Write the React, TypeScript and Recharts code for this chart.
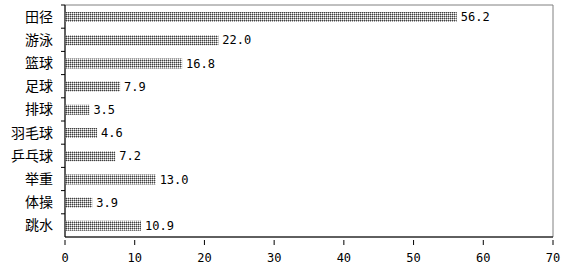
import { BarChart, Bar, XAxis, YAxis, LabelList, ReferenceArea } from "recharts";

const sports = ["田径", "游泳", "篮球", "足球", "排球", "羽毛球", "乒乓球", "举重", "体操", "跳水"];
const shares = [56.2, 22.0, 16.8, 7.9, 3.5, 4.6, 7.2, 13.0, 3.9, 10.9];
const xTicks = [0, 10, 20, 30, 40, 50, 60, 70];

const data = sports.map((name, i) => ({ name, value: shares[i] }));

const BAND = 232 / sports.length;

const YTick = ({ x, y, payload }: any) => (
    <g>
        <line x1={x + 8} x2={x + 4} y1={y - BAND / 2} y2={y - BAND / 2} stroke="#000" />
        <text x={x - 4} y={y} dy={5} textAnchor="end" fontSize={14} fill="#000" fontFamily="'Noto Sans CJK SC'">
            {payload.value}
        </text>
    </g>
);

const XTick = ({ x, y, payload }: any) => (
    <g>
        <line x1={x} x2={x} y1={y} y2={y - 5} stroke="#000" />
        <text x={x} y={y + 17} textAnchor="middle" fontSize={12} fill="#000" fontFamily="'DejaVu Sans Mono'">
            {payload.value}
        </text>
    </g>
);

export default function App() {
    return (
        <div style={{ width: 567, height: 273, background: "#fff" }}>
            <style>{`body{margin:0}`}</style>
            <BarChart
                width={567}
                height={273}
                data={data}
                layout="vertical"
                margin={{ top: 5, right: 14, left: 0, bottom: 0 }}
            >
                <defs>
                    <pattern id="checker" width="2" height="2" patternUnits="userSpaceOnUse">
                        <rect width="2" height="2" fill="#a8a8a8" />
                        <rect width="1" height="1" fill="#404040" />
                        <rect x="1" y="1" width="1" height="1" fill="#ffffff" />
                    </pattern>
                </defs>
                <ReferenceArea x1={0} x2={70} fill="none" stroke="#808080" ifOverflow="visible" />
                <XAxis
                    type="number"
                    domain={[0, 70]}
                    ticks={xTicks}
                    interval={0}
                    axisLine={{ stroke: "#000" }}
                    tickLine={false}
                    tick={<XTick />}
                    height={36}
                />
                <YAxis
                    type="category"
                    dataKey="name"
                    width={65}
                    axisLine={{ stroke: "#000" }}
                    tickLine={false}
                    tick={<YTick />}
                    interval={0}
                />
                <Bar dataKey="value" fill="url(#checker)" barSize={10} isAnimationActive={false}>
                    <LabelList
                        dataKey="value"
                        position="right"
                        offset={4}
                        formatter={(v: any) => Number(v).toFixed(1)}
                        style={{ fontSize: 12, fill: "#000", fontFamily: "'DejaVu Sans Mono'" }}
                    />
                </Bar>
            </BarChart>
        </div>
    );
}
